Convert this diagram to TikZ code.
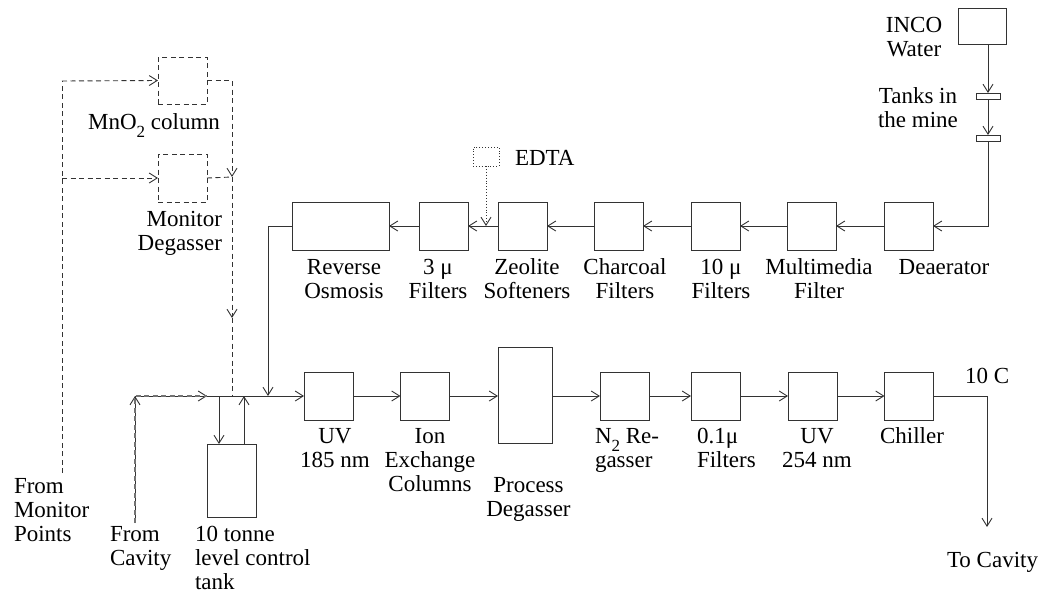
\documentclass[tikz,border=0pt]{standalone}
\usepackage{fontspec}
\setmainfont{Liberation Serif}
\usetikzlibrary{arrows.meta}
\newcommand{\subtwo}{\raisebox{-8pt}[0pt][0pt]{\fontsize{17}{17}\selectfont 2}}
\begin{document}
\begin{tikzpicture}[x=1pt,y=-1pt,
  line width=0.9pt,
  color=black!80,
  >={Straight Barb[length=8pt,width=10pt,line width=0.9pt]},
  box/.style={draw=black!80,line width=0.9pt,inner sep=0pt,outer sep=0pt,minimum width=49pt,minimum height=48pt},
  dsh/.style={dash pattern=on 5pt off 3.5pt},
  lbl/.style={inner sep=0pt,outer sep=0pt,align=center,anchor=base,font=\fontsize{23}{24}\selectfont,text=black},
  lbll/.style={lbl,align=left,anchor=base west}]
\useasboundingbox (0,0) rectangle (1044,592);
% top row boxes
\node[box,minimum width=97pt] (ro) at (340.5,226) {};
\node[box] (f3) at (443.5,226) {};
\node[box] (zeo) at (522.5,226) {};
\node[box] (char) at (618.5,226) {};
\node[box] (f10) at (715.5,226) {};
\node[box] (mm) at (811.5,226) {};
\node[box] (dea) at (908.5,226) {};
% source
\node[box,minimum width=48pt,minimum height=36pt] (inco) at (982,26) {};
\node[box,minimum width=24pt,minimum height=6pt] (tk1) at (988,96) {};
\node[box,minimum width=24pt,minimum height=6pt] (tk2) at (988,138) {};
\node[box,dotted,minimum width=26pt,minimum height=19pt] (edta) at (486,156.5) {};
% monitor
\node[box,dsh,minimum height=47pt] (mno) at (182.5,80.5) {};
\node[box,dsh] (mdg) at (182.5,178) {};
% bottom row
\node[box] (uv1) at (328.5,396) {};
\node[box] (ion) at (425,396) {};
\node[box,minimum width=54pt,minimum height=96pt] (pdg) at (525,395) {};
\node[box] (n2) at (624.5,396) {};
\node[box] (f01) at (715.5,396) {};
\node[box] (uv2) at (812.5,396) {};
\node[box] (chil) at (909,396) {};
\node[box,minimum height=73pt] (tank) at (231.5,480.5) {};
% coordinates
\coordinate (j1) at (268,396);
\coordinate (cav) at (135,523);
\coordinate (c0) at (135,396);
\coordinate (a1) at (207,396);
\coordinate (tin) at (219,396);
\coordinate (tout) at (244,396);
\coordinate (mp) at (62,473);
\coordinate (mtop) at (62,81);
\coordinate (d1) at (232,177);
\coordinate (d2) at (232,318);
\coordinate (d3) at (232,396);
\coordinate (tocav) at (987,527);
% source chain
\draw[->] (tk1.north |- inco.south) -- (tk1.north);
\draw[->] (tk1.south) -- (tk2.north);
\draw[->] (tk2.south) |- (dea.east);
\draw[->] (dea.west) -- (mm.east);
\draw[->] (mm.west) -- (f10.east);
\draw[->] (f10.west) -- (char.east);
\draw[->] (char.west) -- (zeo.east);
\draw[->] (zeo.west) -- (f3.east);
\draw[->,dotted] (edta.south) -- (edta.south |- zeo.west);
\draw[->] (f3.west) -- (ro.east);
\draw[->] (ro.west) -| (j1);
% main line
\draw[->] (cav) -- (c0);
\draw[->] (c0) -- (a1);
\draw[dsh,line width=1.3pt,draw=black!55] (cav) -- (c0) -- (a1);
\draw[->] (a1) -- (uv1.west);
\draw[->] (tin) -- (tin |- tank.north);
\draw[->] (tout |- tank.north) -- (tout);
% monitor loop
\draw[dsh] (mp) -- (mtop);
\draw[dsh,->] (mtop) -- (mno.west);
\draw[dsh,->] (mp |- mdg.west) -- (mdg.west);
\draw[dsh,->] (mno.east) -| (d1);
\draw[dsh] (mdg.east) -- (d1);
\draw[dsh,->] (d1) -- (d2);
\draw[dsh] (d2) -- (d3);
% bottom row
\draw[->] (uv1.east) -- (ion.west);
\draw[->] (ion.east) -- (ion.east -| pdg.west);
\draw[->] (n2.west -| pdg.east) -- (n2.west);
\draw[->] (n2.east) -- (f01.west);
\draw[->] (f01.east) -- (uv2.west);
\draw[->] (uv2.east) -- (chil.west);
\draw[->] (chil.east) -| (tocav);
% labels (anchor base = baseline of last line)
\node[lbl] (lro) at (344,298) {Reverse\\Osmosis};
\node[lbl] (lf3) at (438,298) {3 μ\\Filters};
\node[lbl] (lzeo) at (527,298) {Zeolite\\Softeners};
\node[lbl] (lchar) at (625,298) {Charcoal\\Filters};
\node[lbl] (lf10) at (721,298) {10 μ\\Filters};
\node[lbl] (lmm) at (819,298) {Multimedia\\Filter};
\node[lbl] (ldea) at (944,274) {Deaerator};
\node[lbl] (luv1) at (335,467) {UV\\185 nm};
\node[lbl] (lion) at (430,491) {Ion\\Exchange\\Columns};
\node[lbl] (lpdg) at (528.5,516) {Process\\Degasser};
\node[lbll] (ln2) at (595,467) {N\subtwo{} Re-\\gasser};
\node[lbll] (lf01) at (697,467) {0.1μ\\Filters};
\node[lbl] (luv2) at (817,467) {UV\\254 nm};
\node[lbl] (lchil) at (912,443) {Chiller};
\node[lbll] (l10c) at (965,383) {10 C};
\node[lbll] (ltocav) at (947,567) {To Cavity};
\node[lbll] (lmp) at (14,541) {From\\Monitor\\Points};
\node[lbll] (lcav) at (110,565) {From\\Cavity};
\node[lbll] (ltank) at (195,589) {10 tonne\\level control\\tank};
\node[lbl] (lmno) at (154,129) {MnO\subtwo{} column};
\node[lbl,align=right,anchor=base east] (lmdg) at (222,250) {Monitor\\Degasser};
\node[lbl] (linco) at (914,56) {INCO\\Water};
\node[lbl] (ltk) at (918,127) {Tanks in\\the mine};
\node[lbll] (ledta) at (515,165) {EDTA};
\end{tikzpicture}
\end{document}
